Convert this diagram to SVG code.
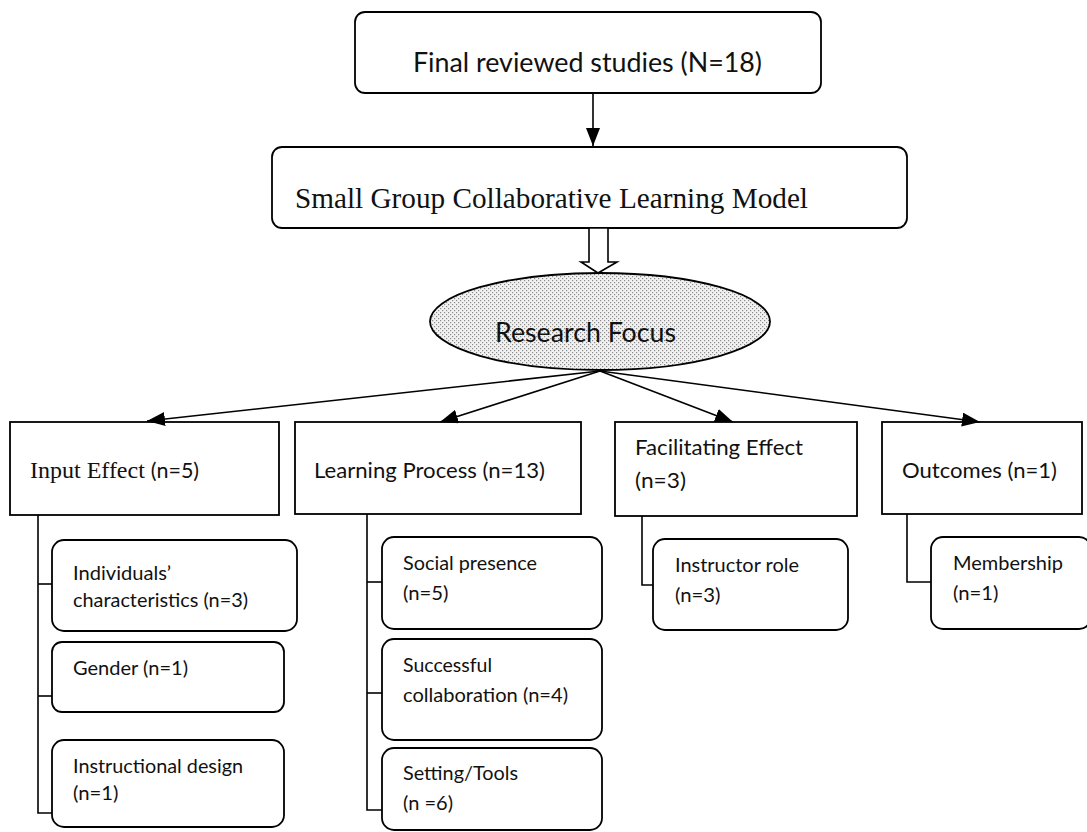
<svg xmlns="http://www.w3.org/2000/svg" width="1087" height="832" viewBox="0 0 1087 832">
<style>
.box{fill:#fff;stroke:#000;stroke-width:1.8}
.sub{fill:#fff;stroke:#000;stroke-width:1.8}
.ln{fill:none;stroke:#000;stroke-width:1.6}
.cal{font-family:Lato,"Open Sans","Liberation Sans",sans-serif;fill:#111}
.tnr{font-family:"Liberation Serif","Times New Roman",serif;fill:#111}
.t1{font-size:26px}
.t2{font-size:21.5px}
.t3{font-size:19px}
</style>
<defs>
<pattern id="dots" width="4" height="4" patternUnits="userSpaceOnUse">
<rect width="4" height="4" fill="#f2f2f2"/>
<rect x="0" y="0" width="1.2" height="1.2" fill="#8a8a8a"/>
<rect x="2" y="2" width="1.2" height="1.2" fill="#8a8a8a"/>
</pattern>
<marker id="ah" markerUnits="userSpaceOnUse" markerWidth="18" markerHeight="14" viewBox="0 0 18 14" refX="18" refY="7" orient="auto">
<path d="M0,0 L18,7 L0,14 Z" fill="#000"/>
</marker>
</defs>

<g id="node-final">
<rect class="box" x="355" y="12" width="466" height="81" rx="10"/>
<text class="cal t1" x="413" y="72" textLength="349" lengthAdjust="spacingAndGlyphs">Final reviewed studies (N=18)</text>
</g>

<g id="node-model">
<rect class="box" x="272" y="147" width="635" height="81" rx="10"/>
<text class="tnr" x="295" y="208" font-size="29" textLength="513" lengthAdjust="spacingAndGlyphs">Small Group Collaborative Learning Model</text>
</g>

<g id="node-focus">
<ellipse cx="600" cy="321.5" rx="170" ry="48.5" fill="url(#dots)" stroke="#000" stroke-width="1.8"/>
<text class="cal" x="495" y="342" font-size="26" textLength="181" lengthAdjust="spacingAndGlyphs">Research Focus</text>
</g>

<g id="node-input">
<rect class="box" x="10" y="422" width="269" height="93"/>
<text x="30" y="478"><tspan class="tnr" font-size="24">Input Effect </tspan><tspan class="cal t2">(n=5)</tspan></text>
</g>

<g id="node-process">
<rect class="box" x="295" y="422" width="286" height="92"/>
<text class="cal t2" x="314" y="478" textLength="231" lengthAdjust="spacingAndGlyphs">Learning Process (n=13)</text>
</g>

<g id="node-facilitating">
<rect class="box" x="615" y="422" width="242" height="94"/>
<text class="cal t2" x="635" y="455" textLength="168" lengthAdjust="spacingAndGlyphs">Facilitating Effect</text>
<text class="cal t2" x="635" y="488" textLength="51" lengthAdjust="spacingAndGlyphs">(n=3)</text>
</g>

<g id="node-outcomes">
<rect class="box" x="882" y="422" width="200" height="92"/>
<text class="cal t2" x="902" y="478" textLength="155" lengthAdjust="spacingAndGlyphs">Outcomes (n=1)</text>
</g>

<g id="node-individuals">
<rect class="sub" x="52" y="540" width="245" height="91" rx="12"/>
<text class="cal t3" x="73" y="580" textLength="98" lengthAdjust="spacingAndGlyphs">Individuals’</text>
<text class="cal t3" x="73" y="607" textLength="175" lengthAdjust="spacingAndGlyphs">characteristics (n=3)</text>
</g>

<g id="node-gender">
<rect class="sub" x="52" y="642" width="232" height="70" rx="10"/>
<text class="cal t3" x="73" y="675" textLength="115" lengthAdjust="spacingAndGlyphs">Gender (n=1)</text>
</g>

<g id="node-instructional">
<rect class="sub" x="52" y="740" width="232" height="87" rx="12"/>
<text class="cal t3" x="73" y="773" textLength="170" lengthAdjust="spacingAndGlyphs">Instructional design</text>
<text class="cal t3" x="73" y="800" textLength="45.5" lengthAdjust="spacingAndGlyphs">(n=1)</text>
</g>

<g id="node-social">
<rect class="sub" x="382" y="537" width="220" height="92" rx="12"/>
<text class="cal t3" x="403" y="570" textLength="134" lengthAdjust="spacingAndGlyphs">Social presence</text>
<text class="cal t3" x="403" y="600" textLength="45.5" lengthAdjust="spacingAndGlyphs">(n=5)</text>
</g>

<g id="node-successful">
<rect class="sub" x="382" y="639" width="220" height="101" rx="12"/>
<text class="cal t3" x="403" y="672" textLength="89" lengthAdjust="spacingAndGlyphs">Successful</text>
<text class="cal t3" x="403" y="702" textLength="165" lengthAdjust="spacingAndGlyphs">collaboration (n=4)</text>
</g>

<g id="node-setting">
<rect class="sub" x="382" y="748" width="220" height="82" rx="12"/>
<text class="cal t3" x="403" y="780" textLength="115" lengthAdjust="spacingAndGlyphs">Setting/Tools</text>
<text class="cal t3" x="403" y="810" textLength="50" lengthAdjust="spacingAndGlyphs">(n =6)</text>
</g>

<g id="node-instructor">
<rect class="sub" x="653" y="539" width="195" height="91" rx="12"/>
<text class="cal t3" x="675" y="572" textLength="124" lengthAdjust="spacingAndGlyphs">Instructor role</text>
<text class="cal t3" x="675" y="602" textLength="45.5" lengthAdjust="spacingAndGlyphs">(n=3)</text>
</g>

<g id="node-membership">
<rect class="sub" x="931" y="537" width="160" height="92" rx="12"/>
<text class="cal t3" x="953" y="570" textLength="110" lengthAdjust="spacingAndGlyphs">Membership</text>
<text class="cal t3" x="953" y="600" textLength="45.5" lengthAdjust="spacingAndGlyphs">(n=1)</text>
</g>

<g id="connectors">
<line class="ln" x1="593" y1="93" x2="593" y2="146" marker-end="url(#ah)"/>
<polygon points="589,228 608,228 608,262 617,262 598,273 581,262 589,262" fill="#fff" stroke="#000" stroke-width="1.6" stroke-linejoin="miter"/>
<line class="ln" x1="600" y1="371" x2="147" y2="421" marker-end="url(#ah)"/>
<line class="ln" x1="600" y1="371" x2="440" y2="422" marker-end="url(#ah)"/>
<line class="ln" x1="600" y1="371" x2="733" y2="422" marker-end="url(#ah)"/>
<line class="ln" x1="600" y1="371" x2="980" y2="422" marker-end="url(#ah)"/>
<polyline class="ln" points="38,515 38,813 52,813"/>
<line class="ln" x1="38" y1="584" x2="52" y2="584"/>
<line class="ln" x1="38" y1="696" x2="52" y2="696"/>
<polyline class="ln" points="367,514 367,810 382,810"/>
<line class="ln" x1="367" y1="582" x2="382" y2="582"/>
<line class="ln" x1="367" y1="693" x2="382" y2="693"/>
<polyline class="ln" points="642,516 642,585 653,585"/>
<polyline class="ln" points="907,514 907,582 931,582"/>
</g>
</svg>
